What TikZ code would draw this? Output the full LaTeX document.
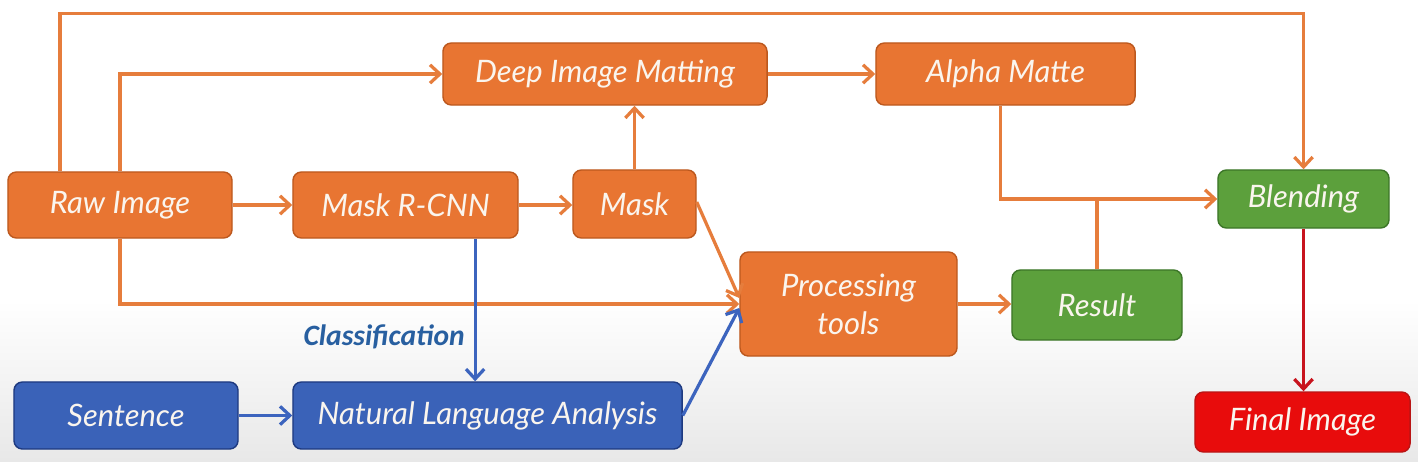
\documentclass[tikz,border=0pt]{standalone}
\usepackage{fontspec}
\setmainfont{Lato}
\newfontfamily\clsfont{Carlito}
\usepackage{tikz}
\usetikzlibrary{arrows.meta}
\usepackage{xcolor}
\definecolor{orfill}{RGB}{232,117,50}
\definecolor{ordraw}{RGB}{188,88,30}
\definecolor{orline}{RGB}{230,125,60}
\definecolor{grfill}{RGB}{92,160,60}
\definecolor{grdraw}{RGB}{60,118,40}
\definecolor{blfill}{RGB}{58,98,184}
\definecolor{bldraw}{RGB}{30,58,128}
\definecolor{blline}{RGB}{60,100,190}
\definecolor{rdfill}{RGB}{232,12,12}
\definecolor{rddraw}{RGB}{185,20,20}
\definecolor{rdline}{RGB}{200,20,30}
\definecolor{clstext}{RGB}{40,95,160}
\definecolor{bgbot}{RGB}{232,232,232}
\definecolor{boxtext}{RGB}{250,245,238}

\begin{document}
\begin{tikzpicture}[x=0.025cm,y=-0.025cm,
    box/.style={rounded corners=6pt,line width=1pt,text=boxtext,
      font=\fontsize{22}{27}\selectfont\itshape,align=center,inner sep=0pt},
    orbox/.style={box,fill=orfill,draw=ordraw},
    grbox/.style={box,fill=grfill,draw=grdraw},
    blbox/.style={box,fill=blfill,draw=bldraw},
    rdbox/.style={box,fill=rdfill,draw=rddraw},
    flow/.style={draw=orline,line width=2.3pt,-{Straight Barb[length=7pt,width=13pt]}},
    bflow/.style={flow,draw=blline},
    rflow/.style={flow,draw=rdline}]
        \useasboundingbox (0,0) rectangle (1418,461);
        \fill[white] (0,0) rectangle (1418,461);
        \shade[top color=white,bottom color=bgbot] (0,300) rectangle (1418,461);
        % boxes
        \node[orbox,minimum width=5.6cm,minimum height=1.65cm] (raw) at (120,205) {Raw Image};
        \node[orbox,minimum width=5.625cm,minimum height=1.65cm] (rcnn) at (405.5,205) {Mask R-CNN};
        \node[orbox,minimum width=3.075cm,minimum height=1.7cm] (mask) at (634.5,204) {Mask};
        \node[orbox,minimum width=8.1cm,minimum height=1.55cm] (dim) at (605,74) {Deep Image Matting};
        \node[orbox,minimum width=6.475cm,minimum height=1.55cm] (alpha) at (1005.5,74) {Alpha Matte};
        \node[orbox,minimum width=5.425cm,minimum height=2.6cm] (proc) at (848.5,304) {Processing\\tools};
        \node[grbox,minimum width=4.275cm,minimum height=1.45cm] (blend) at (1303.5,199) {Blending};
        \node[grbox,minimum width=4.25cm,minimum height=1.75cm] (res) at (1097,305) {Result};
        \node[blbox,minimum width=5.6cm,minimum height=1.675cm] (sent) at (126,415.5) {Sentence};
        \node[blbox,minimum width=9.725cm,minimum height=1.675cm] (nla) at (487.5,415.5) {Natural Language Analysis};
        \node[rdbox,minimum width=5.375cm,minimum height=1.5cm] (final) at (1302.5,422) {Final Image};
        % orange flow
        \draw[flow] ([xshift=-1.5cm]raw.north) -- ++(0,-158) -| (blend.north);
        \draw[flow] (raw.north) |- (dim.west);
        \draw[flow] (raw.east) -- (raw.east -| rcnn.west);
        \draw[flow] (rcnn.east) -- (rcnn.east -| mask.west);
        \draw[flow] (mask.north) -- (mask.north |- dim.south);
        \draw[flow] (dim.east) -- (dim.east -| alpha.west);
        \draw[flow] ([xshift=-0.125cm]alpha.south) |- (blend.west);
        \draw[draw=orline,line width=2.3pt] (res.north) -- (res.north |- blend.west);
        \draw[flow] ([yshift=0.05cm]mask.east) -- ([yshift=0.15cm]proc.west);
        \draw[flow] (raw.south) |- (proc.west);
        \draw[flow] (proc.east) -- (proc.east -| res.west);
        % blue flow
        \draw[bflow] ([xshift=1.74cm]rcnn.south) -- ([xshift=1.74cm]rcnn.south |- nla.north)
            node[pos=0.69,left=3pt,text=clstext,font=\clsfont\fontsize{21}{25}\selectfont\bfseries\itshape] (cls) {Classification};
        \draw[bflow] (sent.east) -- (sent.east -| nla.west);
        \draw[bflow] (nla.east) -- ([yshift=-0.1cm]proc.west);
        % red flow
        \draw[rflow] (blend.south) -- (blend.south |- final.north);
      \end{tikzpicture}
\end{document}
